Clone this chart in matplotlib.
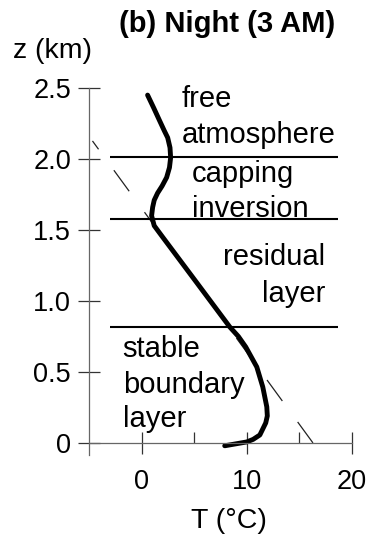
import matplotlib
matplotlib.use("Agg")
import matplotlib.pyplot as plt

plt.rcParams['font.family'] = ['Liberation Sans', 'DejaVu Sans']

# night-time temperature profile (T in degC, z in km)
profile_T = [0.57, 1.15, 1.71, 2.15, 2.48, 2.70, 2.76, 2.65, 2.38, 1.95, 1.52, 1.20,
             1.05, 0.95, 1.20, 2.0, 5.19, 8.38, 9.20, 9.90, 10.95, 11.52, 11.9,
             11.95, 11.8, 11.24, 10.6, 10.0, 7.9]
profile_z = [2.45, 2.36, 2.27, 2.20, 2.15, 2.08, 2.01, 1.94, 1.87, 1.81, 1.76, 1.71,
             1.66, 1.60, 1.53, 1.45, 1.134, 0.817, 0.75, 0.676, 0.535, 0.394, 0.254,
             0.19, 0.141, 0.056, 0.025, 0.007, -0.02]

# dry adiabat (dashed)
adiabat_T = [16.29, -4.67]
adiabat_z = [0.0, 2.127]

# layer boundaries
layer_z = [2.015, 1.577, 0.817]
layer_T_start = -3.05
layer_T_end = 18.67

xticks = [0, 10, 20]
xminor = [5, 15]
yticks = [0, 0.5, 1.0, 1.5, 2.0, 2.5]
ytick_labels = ['0', '0.5', '1.0', '1.5', '2.0', '2.5']

fig = plt.figure(figsize=(3.67, 5.43), dpi=100)
ax = fig.add_axes([89/367, 1 - 455/543, 263/367, 367/543])

ax.set_xlim(-5, 20)
ax.set_ylim(-0.085, 2.5)

axis_col = '#666666'
for side in ['top', 'right']:
    ax.spines[side].set_visible(False)
ax.spines['bottom'].set_position(('data', 0))
ax.spines['bottom'].set_color(axis_col)
ax.spines['left'].set_color(axis_col)
ax.spines['bottom'].set_linewidth(0.9)
ax.spines['left'].set_linewidth(0.9)

ax.set_xticks(xticks)
ax.set_xticklabels([str(t) for t in xticks])
ax.set_xticks(xminor, minor=True)
ax.set_yticks(yticks)
ax.set_yticklabels(ytick_labels)
ax.tick_params(axis='both', which='major', direction='inout', length=16, width=0.9,
               color='#333333', labelsize=19.5, labelcolor='black')
ax.tick_params(axis='x', which='major', pad=11)
ax.tick_params(axis='y', which='major', pad=5)
ax.tick_params(axis='x', which='minor', direction='in', length=8, width=0.9, color='#333333')

# dashed adiabat
lw_d = 0.9
ax.plot(adiabat_T, adiabat_z, color='#222222', lw=lw_d,
        dashes=(18.7 / lw_d, 18.7 / lw_d), clip_on=False)

# layer boundaries
for z in layer_z:
    ax.plot([layer_T_start, layer_T_end], [z, z], color='black', lw=1.5,
            solid_capstyle='butt')

# temperature profile
ax.plot(profile_T, profile_z, color='black', lw=3.5, solid_joinstyle='round',
        solid_capstyle='round', clip_on=False)

fs = 21
ax.text(3.8, 2.366, 'free', fontsize=fs, ha='left', va='baseline')
ax.text(3.8, 2.113, 'atmosphere', fontsize=fs, ha='left', va='baseline')
ax.text(4.76, 1.838, 'capping', fontsize=fs, ha='left', va='baseline')
ax.text(4.76, 1.592, 'inversion', fontsize=fs, ha='left', va='baseline')
ax.text(17.43, 1.254, 'residual', fontsize=fs, ha='right', va='baseline')
ax.text(17.43, 0.993, 'layer', fontsize=fs, ha='right', va='baseline')
ax.text(-1.8, 0.606, 'stable', fontsize=fs, ha='left', va='baseline')
ax.text(-1.8, 0.352, 'boundary', fontsize=fs, ha='left', va='baseline')
ax.text(-1.8, 0.113, 'layer', fontsize=fs, ha='left', va='baseline')

fig.text(227/367, 1 - 24/543, '(b) Night (3 AM)', fontsize=21, fontweight='bold',
         ha='center', va='center')
fig.text(13/367, 1 - 51.5/543, 'z (km)', fontsize=20.5, ha='left', va='center')
fig.text(229/367, 1 - 521/543, 'T (°C)', fontsize=20.5, ha='center', va='center')

fig.savefig('out.png', dpi=100)
